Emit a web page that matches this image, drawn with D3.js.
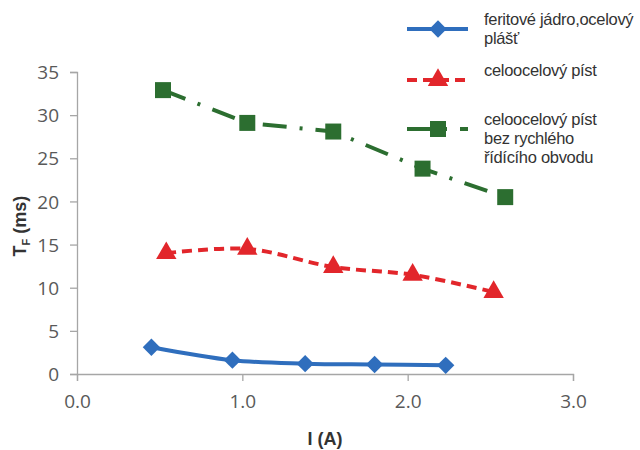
<!DOCTYPE html>
<html>
<head>
<meta charset="utf-8">
<script src="https://cdn.jsdelivr.net/npm/d3@7"></script>
<style>
  body { margin: 0; background: #fff; }
  svg text { font-family: "Liberation Sans", Arial, sans-serif; }
</style>
</head>
<body>
<script>
// values
const seriesNames = ['feritové jádro,ocelový plášť', 'celoocelový píst', 'celoocelový píst bez rychlého řídícího obvodu'];
const legendLines = [['feritové jádro,ocelový', 'plášť'], ['celoocelový píst'], ['celoocelový píst', 'bez rychlého', 'řídícího obvodu']];
const blueI = [0.45, 0.94, 1.38, 1.80, 2.23];
const blueT = [3.1, 1.6, 1.2, 1.1, 1.0];
const redI = [0.54, 1.03, 1.55, 2.03, 2.52];
const redT = [14.0, 14.5, 12.4, 11.5, 9.5];
const greenI = [0.52, 1.03, 1.55, 2.09, 2.59];
const greenT = [32.9, 29.1, 28.1, 23.8, 20.5];
const xTicks = [0, 1, 2, 3];
const yTicks = [0, 5, 10, 15, 20, 25, 30, 35];

const w = 640, h = 450;
const x = d3.scaleLinear().domain([0, 3]).range([77, 573]);
const y = d3.scaleLinear().domain([0, 35]).range([374, 72]);

const svg = d3.select('body').append('svg').attr('width', w).attr('height', h);

// axes
const xAx = svg.append('g').attr('transform', 'translate(0,' + y(0) + ')')
  .call(d3.axisBottom(x).tickValues(xTicks).tickFormat(d3.format('.1f')).tickSize(7).tickPadding(14));
const yAx = svg.append('g').attr('transform', 'translate(' + x(0) + ',0)')
  .call(d3.axisLeft(y).tickValues(yTicks).tickSize(7).tickPadding(11));
[xAx, yAx].forEach(g => {
  g.select('.domain').attr('stroke', '#a6a6a6').attr('stroke-width', 1.3);
  g.selectAll('.tick line').attr('stroke', '#a6a6a6').attr('stroke-width', 1.3);
  g.selectAll('.tick text').attr('fill', '#595959').style('font-family', '"Open Sans", sans-serif').style('font-size', '19px');
});
yAx.selectAll('.tick text').attr('dy', '0.35em');

// axis titles
svg.append('text').attr('x', 325).attr('y', 445).attr('text-anchor', 'middle')
  .attr('font-weight', 'bold').attr('font-size', 18).attr('fill', '#333').text('I (A)');
const yt = svg.append('text').attr('transform', 'translate(26,226) rotate(-90)').attr('text-anchor', 'middle')
  .attr('font-weight', 'bold').attr('font-size', 18).attr('fill', '#333');
yt.append('tspan').text('T');
yt.append('tspan').attr('font-size', 11).attr('dy', 4).text('F');
yt.append('tspan').attr('dy', -4).text(' (ms)');

const series = [
  {I: blueI, T: blueT, color: '#2f6ebd', dash: null, curve: d3.curveCatmullRom.alpha(0.5), sym: 'diamond'},
  {I: redI, T: redT, color: '#e2262b', dash: '10,6', curve: d3.curveCatmullRom.alpha(0.5), sym: 'triangle'},
  {I: greenI, T: greenT, color: '#2c6e30', dash: '24,13,3,13', curve: d3.curveLinear, sym: 'square'}
];

function marker(g, s, cx, cy) {
  if (s.sym == 'diamond') {
    g.append('path').attr('d', d3.symbol().type(d3.symbolSquare).size(150)())
      .attr('transform', 'translate(' + cx + ',' + cy + ') rotate(45)').attr('fill', s.color);
  } else if (s.sym == 'triangle') {
    g.append('path').attr('d', d3.symbol().type(d3.symbolTriangle).size(180)())
      .attr('transform', 'translate(' + cx + ',' + cy + ')').attr('fill', s.color);
  } else {
    g.append('path').attr('d', d3.symbol().type(d3.symbolSquare).size(256)())
      .attr('transform', 'translate(' + cx + ',' + cy + ')').attr('fill', s.color);
  }
}

series.forEach(s => {
  const pts = s.I.map((v, i) => [x(v), y(s.T[i])]);
  const line = d3.line().curve(s.curve);
  svg.append('path').attr('d', line(pts)).attr('fill', 'none')
    .attr('stroke', s.color).attr('stroke-width', 4)
    .attr('stroke-dasharray', s.dash);
  const g = svg.append('g');
  pts.forEach(p => marker(g, s, p[0], p[1]));
});

// legend
const legY = [29, 80, 129];
const legend = svg.append('g');
series.forEach((s, i) => {
  legend.append('line').attr('x1', 407).attr('x2', 468).attr('y1', legY[i]).attr('y2', legY[i])
    .attr('stroke', s.color).attr('stroke-width', 4).attr('stroke-dasharray', s.dash);
  marker(legend, s, 438, legY[i]);
  const t = legend.append('text').attr('x', 484).attr('y', legY[i] - 4)
    .attr('font-size', 16.5).attr('letter-spacing', -0.3).attr('fill', '#333');
  legendLines[i].forEach((ln, j) => {
    t.append('tspan').attr('x', 484).attr('dy', j == 0 ? 0 : 19).text(ln);
  });
});
</script>
</body>
</html>
